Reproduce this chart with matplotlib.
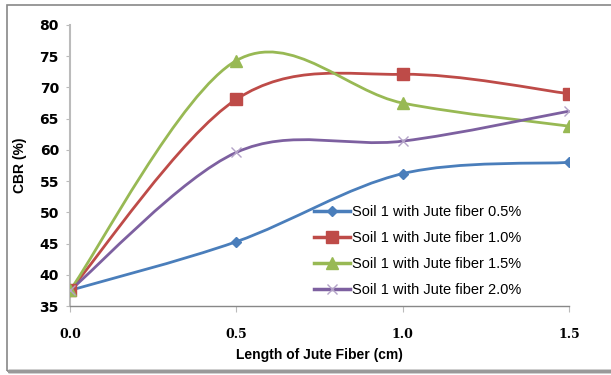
import matplotlib

matplotlib.use("Agg")
import matplotlib.pyplot as plt
from matplotlib.lines import Line2D
from matplotlib.patches import PathPatch, Rectangle
from matplotlib.path import Path
import numpy as np

# --- data ---
lengths = [0.0, 0.5, 1.0, 1.5]
cbr_05 = [37.5, 45.3, 56.2, 58.0]
cbr_10 = [37.5, 68.1, 72.1, 69.0]
cbr_15 = [37.5, 74.3, 67.5, 63.8]
cbr_20 = [37.5, 59.6, 61.4, 66.2]
labels = [
    "Soil 1 with Jute fiber 0.5%",
    "Soil 1 with Jute fiber 1.0%",
    "Soil 1 with Jute fiber 1.5%",
    "Soil 1 with Jute fiber 2.0%",
]

colors = ["#4A7EBB", "#BE4B48", "#98B954", "#7D60A0"]
marker_colors = ["#4A7EBB", "#BE4B48", "#98B954", "#B3A2C7"]
markers = ["D", "s", "^", "x"]
msizes = [5.5, 8.5, 8.5, 7]


def smooth_path(xs, ys):
    """Excel-like smoothed line: cubic Bezier through the points."""
    pts = np.column_stack([xs, ys]).astype(float)
    n = len(pts)
    verts = [pts[0]]
    codes = [Path.MOVETO]
    for i in range(n - 1):
        p0 = pts[i - 1] if i > 0 else pts[i]
        p1 = pts[i]
        p2 = pts[i + 1]
        p3 = pts[i + 2] if i + 2 < n else pts[i + 1]
        c1 = p1 + (p2 - p0) / 6.0
        c2 = p2 - (p3 - p1) / 6.0
        verts += [c1, c2, p2]
        codes += [Path.CURVE4] * 3
    return Path(verts, codes)


fig = plt.figure(figsize=(6.11, 3.75), dpi=100)
fig.patches.append(Rectangle((7 / 611, 4 / 375), 1.2, 366 / 375,
                             transform=fig.transFigure, fill=False,
                             edgecolor="#888888", linewidth=1.2))
fig.patches.append(Rectangle((8 / 611, 4 / 375), 1.2, 0,
                             transform=fig.transFigure, fill=False,
                             edgecolor="#999999", linewidth=2.5))

ax = fig.add_axes([70 / 611, 69 / 375, 499 / 611, 281 / 375])

series = [cbr_05, cbr_10, cbr_15, cbr_20]
for ys, col, mcol, mk, ms in zip(series, colors, marker_colors, markers, msizes):
    ax.add_patch(PathPatch(smooth_path(lengths, ys), facecolor="none",
                           edgecolor=col, linewidth=2.0, zorder=2,
                           capstyle="round", joinstyle="round"))
    ax.plot(lengths, ys, linestyle="none", marker=mk, markersize=ms,
            color=mcol, markeredgecolor=mcol, markeredgewidth=1.0, zorder=3)

ax.set_xlim(0, 1.5)
ax.set_ylim(35, 80)
ax.set_xticks([0.0, 0.5, 1.0, 1.5])
ax.set_xticklabels(["0.0", "0.5", "1.0", "1.5"])
ax.set_yticks(range(35, 81, 5))

for side in ["top", "right"]:
    ax.spines[side].set_visible(False)
ax.spines["left"].set_color("#BBBBBB")
ax.spines["left"].set_linewidth(1.5)
ax.spines["bottom"].set_color("#888888")
ax.spines["bottom"].set_linewidth(1.0)
ax.tick_params(axis="y", direction="out", length=3, color="#BBBBBB",
               labelsize=10, pad=5)
ax.tick_params(axis="x", direction="out", length=4, color="#BBBBBB",
               labelsize=9, pad=12)
for lab in ax.get_yticklabels():
    lab.set_fontweight("bold")
    lab.set_family("DejaVu Sans")
for lab in ax.get_xticklabels():
    lab.set_fontweight("bold")
    lab.set_family("DejaVu Serif")

ax.set_xlabel("Length of Jute Fiber (cm)", fontsize=10, fontweight="bold",
              family="Liberation Sans", labelpad=5)
ax.set_ylabel("CBR (%)", fontsize=10, fontweight="bold",
              family="Liberation Sans", labelpad=9)

handles = [
    Line2D([], [], color=col, linewidth=2.5, marker=mk, markersize=ms,
           markerfacecolor=mcol, markeredgecolor=mcol)
    for col, mcol, mk, ms in zip(colors, marker_colors, markers, msizes)
]
leg = ax.legend(handles, labels, loc="upper left",
                bbox_to_anchor=(238 / 499, 107 / 281), frameon=False,
                prop={"family": "Liberation Sans", "size": 10.5},
                handlelength=2.5, handletextpad=0.15, labelspacing=0.82,
                borderaxespad=0)

fig.savefig("out.png", dpi=100)
